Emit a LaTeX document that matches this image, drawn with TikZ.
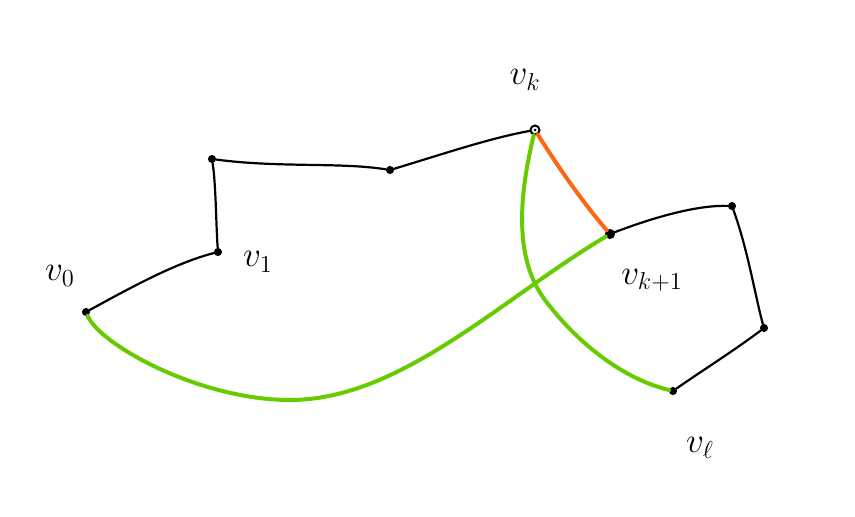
\documentclass[tikz,border=0pt]{standalone}
\begin{document}
\begin{tikzpicture}[x=1pt,y=-1pt,
  vtx/.style={circle,draw=black,fill=black,line width=1pt,inner sep=0pt,minimum size=7pt},
  edge/.style={black,line width=2.2pt,line cap=round},
  greenedge/.style={draw={rgb,255:red,102;green,204;blue,0},line width=4pt,line cap=round},
  orangeedge/.style={draw={rgb,255:red,255;green,102;blue,17},line width=4pt,line cap=round},
  lbl/.style={font=\huge,scale=1.7}]
\useasboundingbox (0,0) rectangle (855,517);
\node[vtx] (v0) at (86,312) {};
\node[vtx] (v1) at (218,252) {};
\node[vtx] (a) at (212,159) {};
\node[vtx] (b) at (390,170) {};
\node[vtx,fill=white,minimum size=9pt,line width=2pt] (vk) at (535,130) {};
\node[vtx,minimum size=9pt] (vk1) at (610,234) {};
\node[vtx] (c) at (732,206) {};
\node[vtx] (d) at (764,328) {};
\node[vtx] (vl) at (673,391) {};
\fill (vk) circle (1.5pt);
% black edges
\draw[edge] (v0) .. controls (130,288) and (175,263) .. (v1);
\draw[edge] (v1) .. controls (216,225) and (216,185) .. (a);
\draw[edge] (a) .. controls (280,168) and (340,162) .. (b);
\draw[edge] (b) .. controls (440,155) and (490,138) .. (vk);
\draw[edge] (vk1) .. controls (660,215) and (700,205) .. (c);
\draw[edge] (c) .. controls (748,250) and (756,300) .. (d);
\draw[edge] (d) .. controls (735,350) and (700,372) .. (vl);
% orange
\draw[orangeedge] (vk) .. controls (560,170) and (585,205) .. (vk1);
% green
\draw[greenedge] (v0) .. controls (100,345) and (200,400) .. (290,400)
  .. controls (400,400) and (500,300) .. (vk1);
\draw[greenedge] (vk) .. controls (518,200) and (515,260) .. (545,300)
  .. controls (575,340) and (620,378) .. (vl);
% labels
\node[lbl] (l0) at (60,276) {$v_0$};
\node[lbl] (l1) at (258,262) {$v_1$};
\node[lbl] (lk) at (525,80) {$v_k$};
\node[lbl] (lk1) at (652,280) {$v_{k+1}$};
\node[lbl] (ll) at (700,448) {$v_\ell$};
\end{tikzpicture}
\end{document}
